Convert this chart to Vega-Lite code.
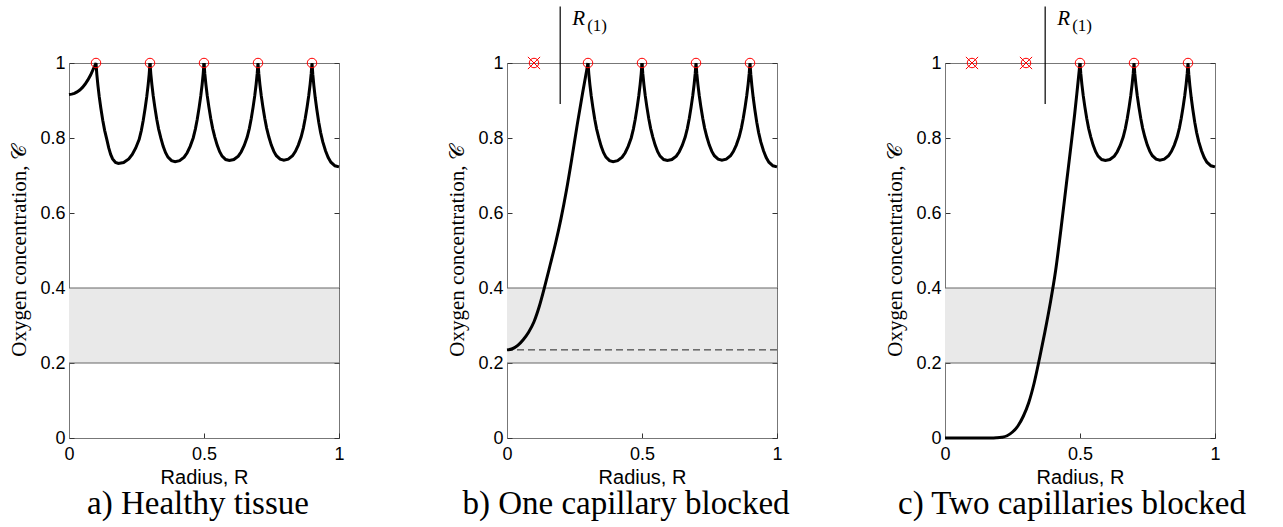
{
  "$schema": "https://vega.github.io/schema/vega-lite/v6.json",
  "autosize": {"type": "pad"},
  "padding": {"left": 8, "top": 5, "right": 5, "bottom": 3},
  "background": "white",
  "config": {
    "view": {"stroke": "#777", "strokeWidth": 1},
    "axis": {"grid": false, "domainColor": "#777", "tickColor": "#333", "tickSize": -5, "labelFont": "Liberation Sans", "labelFontSize": 18, "labelColor": "#000", "titleColor": "#000", "titleFontWeight": "normal"},
    "axisX": {"labelPadding": 12, "titleFont": "Liberation Sans", "titleFontSize": 20, "titlePadding": 4, "labelFlush": false},
    "axisY": {"labelPadding": 9, "titleFont": "Liberation Serif", "titleFontSize": 21, "titlePadding": 10},
    "title": {"font": "Liberation Serif", "fontSize": 33, "fontWeight": "normal", "color": "#000", "orient": "bottom", "offset": 1}
  },
  "datasets": {
    "band": [{"x0": 0, "x1": 1, "lo": 0.2, "hi": 0.4}],
    "levels": [{"C": 0.2}, {"C": 0.4}],
    "dash": [{"C": 0.235}],
    "tail2": [
      {"R":0.3,"C":1},{"R":0.303,"C":0.9711},{"R":0.307,"C":0.9421},{"R":0.312,"C":0.9119},{"R":0.318,"C":0.8817},{"R":0.325,"C":0.8501},{"R":0.332,"C":0.8238},{"R":0.34,"C":0.8001},{"R":0.3488,"C":0.7778},{"R":0.3577,"C":0.7607},{"R":0.3665,"C":0.7488},{"R":0.3797,"C":0.7396},{"R":0.393,"C":0.737},
      {"R":0.4097,"C":0.7396},{"R":0.4265,"C":0.7488},{"R":0.4377,"C":0.7607},{"R":0.4488,"C":0.7778},{"R":0.46,"C":0.8001},{"R":0.468,"C":0.8238},{"R":0.475,"C":0.8501},{"R":0.482,"C":0.8817},{"R":0.488,"C":0.9119},{"R":0.493,"C":0.9421},{"R":0.497,"C":0.9711},{"R":0.5,"C":1}
    ],
    "tail3": [
      {"R":0.5,"C":1},{"R":0.503,"C":0.9714},{"R":0.507,"C":0.9428},{"R":0.512,"C":0.9129},{"R":0.518,"C":0.883},{"R":0.525,"C":0.8518},{"R":0.532,"C":0.8258},{"R":0.54,"C":0.8024},{"R":0.549,"C":0.7803},{"R":0.558,"C":0.7634},{"R":0.567,"C":0.7517},{"R":0.5805,"C":0.7426},{"R":0.594,"C":0.74},
      {"R":0.6105,"C":0.7426},{"R":0.627,"C":0.7517},{"R":0.638,"C":0.7634},{"R":0.649,"C":0.7803},{"R":0.66,"C":0.8024},{"R":0.668,"C":0.8258},{"R":0.675,"C":0.8518},{"R":0.682,"C":0.883},{"R":0.688,"C":0.9129},{"R":0.693,"C":0.9428},{"R":0.697,"C":0.9714},
      {"R":0.7,"C":1},{"R":0.703,"C":0.9715},{"R":0.707,"C":0.943},{"R":0.712,"C":0.9132},{"R":0.718,"C":0.8835},{"R":0.725,"C":0.8524},{"R":0.732,"C":0.8265},{"R":0.74,"C":0.8032},{"R":0.7493,"C":0.7811},{"R":0.7587,"C":0.7643},{"R":0.768,"C":0.7527},{"R":0.782,"C":0.7436},{"R":0.796,"C":0.741},
      {"R":0.812,"C":0.7436},{"R":0.828,"C":0.7527},{"R":0.8387,"C":0.7643},{"R":0.8493,"C":0.7811},{"R":0.86,"C":0.8032},{"R":0.868,"C":0.8265},{"R":0.875,"C":0.8524},{"R":0.882,"C":0.8835},{"R":0.888,"C":0.9132},{"R":0.893,"C":0.943},{"R":0.897,"C":0.9715},
      {"R":0.9,"C":1},{"R":0.903,"C":0.9695},{"R":0.907,"C":0.9391},{"R":0.912,"C":0.9072},{"R":0.918,"C":0.8754},{"R":0.925,"C":0.8421},{"R":0.932,"C":0.8144},{"R":0.94,"C":0.7895},{"R":0.95,"C":0.766},{"R":0.96,"C":0.7479},{"R":0.97,"C":0.7355},{"R":0.985,"C":0.7258},{"R":1,"C":0.723}
    ],
    "headA": [
      {"R":0,"C":0.916},{"R":0.01,"C":0.917},{"R":0.02,"C":0.919},{"R":0.03,"C":0.923},{"R":0.04,"C":0.928},{"R":0.05,"C":0.935},{"R":0.06,"C":0.944},{"R":0.07,"C":0.955},{"R":0.08,"C":0.968},{"R":0.09,"C":0.984},{"R":0.095,"C":0.992},
      {"R":0.1,"C":1},{"R":0.103,"C":0.9705},{"R":0.107,"C":0.941},{"R":0.112,"C":0.9102},{"R":0.118,"C":0.8794},{"R":0.125,"C":0.8472},{"R":0.132,"C":0.8204},{"R":0.14,"C":0.7963},{"R":0.1472,"C":0.7735},{"R":0.1543,"C":0.7561},{"R":0.1615,"C":0.7441},{"R":0.1723,"C":0.7347},{"R":0.183,"C":0.732},
      {"R":0.2023,"C":0.7347},{"R":0.2215,"C":0.7441},{"R":0.2343,"C":0.7561},{"R":0.2472,"C":0.7735},{"R":0.26,"C":0.7963},{"R":0.268,"C":0.8204},{"R":0.275,"C":0.8472},{"R":0.282,"C":0.8794},{"R":0.288,"C":0.9102},{"R":0.293,"C":0.941},{"R":0.297,"C":0.9705},{"R":0.3,"C":1}
    ],
    "headB": [
      {"R":0,"C":0.235},{"R":0.02,"C":0.238},{"R":0.04,"C":0.247},{"R":0.06,"C":0.262},{"R":0.08,"C":0.282},{"R":0.1,"C":0.31},{"R":0.12,"C":0.352},{"R":0.14,"C":0.405},{"R":0.16,"C":0.462},{"R":0.18,"C":0.52},{"R":0.2,"C":0.585},{"R":0.22,"C":0.66},{"R":0.24,"C":0.745},{"R":0.26,"C":0.835},{"R":0.28,"C":0.92},{"R":0.29,"C":0.96},{"R":0.3,"C":1}
    ],
    "headC": [
      {"R":0,"C":0},{"R":0.1,"C":0},{"R":0.17,"C":0},{"R":0.19,"C":0.0005},{"R":0.21,"C":0.002},{"R":0.23,"C":0.006},{"R":0.25,"C":0.016},{"R":0.27,"C":0.032},{"R":0.29,"C":0.058},{"R":0.31,"C":0.094},{"R":0.33,"C":0.146},{"R":0.35,"C":0.212},{"R":0.37,"C":0.283},{"R":0.39,"C":0.36},{"R":0.41,"C":0.448},{"R":0.43,"C":0.56},{"R":0.45,"C":0.68},{"R":0.47,"C":0.8},{"R":0.48,"C":0.862},{"R":0.49,"C":0.93},{"R":0.5,"C":1}
    ],
    "capA": [{"R":0.1,"C":1,"blocked":false},{"R":0.3,"C":1,"blocked":false},{"R":0.5,"C":1,"blocked":false},{"R":0.7,"C":1,"blocked":false},{"R":0.9,"C":1,"blocked":false}],
    "capB": [{"R":0.1,"C":1,"blocked":true},{"R":0.3,"C":1,"blocked":false},{"R":0.5,"C":1,"blocked":false},{"R":0.7,"C":1,"blocked":false},{"R":0.9,"C":1,"blocked":false}],
    "capC": [{"R":0.1,"C":1,"blocked":true},{"R":0.3,"C":1,"blocked":true},{"R":0.5,"C":1,"blocked":false},{"R":0.7,"C":1,"blocked":false},{"R":0.9,"C":1,"blocked":false}],
    "r1B": [{"R":0.197,"lo":0.891,"hi":1.151,"ty":1.118}],
    "r1C": [{"R":0.371,"lo":0.891,"hi":1.151,"ty":1.118}]
  },
  "spacing": 168,
  "bounds": "flush",
  "hconcat": [
    {
      "width": 270, "height": 375,
      "title": {"text": "a) Healthy tissue", "dx": -6},
      "resolve": {"axis": {"y": "independent"}},
      "layer": [
        {"data": {"name": "band"}, "mark": {"type": "rect", "color": "#e9e9e9"},
         "encoding": {"x": {"field": "x0", "type": "quantitative", "scale": {"domain": [0, 1], "nice": false}}, "x2": {"field": "x1"},
                      "y": {"field": "lo", "type": "quantitative", "scale": {"domain": [0, 1], "nice": false}, "axis": null}, "y2": {"field": "hi"}}},
        {"data": {"name": "levels"}, "mark": {"type": "rule", "color": "#666", "strokeWidth": 1},
         "encoding": {"y": {"field": "C", "type": "quantitative", "scale": {"domain": [0, 1], "nice": false}, "axis": {"orient": "right", "labels": false, "title": null, "domain": false, "values": [0, 0.2, 0.4, 0.6, 0.8, 1]}}}},
        {"data": {"name": "headA"}, "mark": {"type": "line", "color": "#000", "strokeWidth": 3},
         "encoding": {"x": {"field": "R", "type": "quantitative", "scale": {"domain": [0, 1], "nice": false}, "axis": {"title": "Radius, R", "values": [0, 0.5, 1], "format": "~g"}},
                      "y": {"field": "C", "type": "quantitative", "scale": {"domain": [0, 1], "nice": false}, "axis": {"title": "Oxygen concentration, 𝒞", "values": [0, 0.2, 0.4, 0.6, 0.8, 1], "format": "~g"}}}},
        {"data": {"name": "tail2"}, "mark": {"type": "line", "color": "#000", "strokeWidth": 3},
         "encoding": {"x": {"field": "R", "type": "quantitative"}, "y": {"field": "C", "type": "quantitative", "scale": {"domain": [0, 1], "nice": false}, "axis": null}}},
        {"data": {"name": "tail3"}, "mark": {"type": "line", "color": "#000", "strokeWidth": 3},
         "encoding": {"x": {"field": "R", "type": "quantitative"}, "y": {"field": "C", "type": "quantitative", "scale": {"domain": [0, 1], "nice": false}, "axis": null}}},
        {"data": {"name": "capA"}, "mark": {"type": "point", "shape": "circle", "size": 90, "filled": false, "color": "#ff0000", "strokeWidth": 1, "opacity": 1},
         "encoding": {"x": {"field": "R", "type": "quantitative"}, "y": {"field": "C", "type": "quantitative", "scale": {"domain": [0, 1], "nice": false}, "axis": null}}}
      ]
    },
    {
      "width": 270, "height": 375,
      "title": {"text": "b) One capillary blocked", "dx": -16},
      "resolve": {"axis": {"y": "independent"}},
      "layer": [
        {"data": {"name": "band"}, "mark": {"type": "rect", "color": "#e9e9e9"},
         "encoding": {"x": {"field": "x0", "type": "quantitative", "scale": {"domain": [0, 1], "nice": false}}, "x2": {"field": "x1"},
                      "y": {"field": "lo", "type": "quantitative", "scale": {"domain": [0, 1], "nice": false}, "axis": null}, "y2": {"field": "hi"}}},
        {"data": {"name": "levels"}, "mark": {"type": "rule", "color": "#666", "strokeWidth": 1},
         "encoding": {"y": {"field": "C", "type": "quantitative", "scale": {"domain": [0, 1], "nice": false}, "axis": {"orient": "right", "labels": false, "title": null, "domain": false, "values": [0, 0.2, 0.4, 0.6, 0.8, 1]}}}},
        {"data": {"name": "dash"}, "mark": {"type": "rule", "color": "#222", "strokeWidth": 1, "strokeDash": [7, 4]},
         "encoding": {"y": {"field": "C", "type": "quantitative", "scale": {"domain": [0, 1], "nice": false}, "axis": null}}},
        {"data": {"name": "headB"}, "mark": {"type": "line", "color": "#000", "strokeWidth": 3, "interpolate": "monotone"},
         "encoding": {"x": {"field": "R", "type": "quantitative", "scale": {"domain": [0, 1], "nice": false}, "axis": {"title": "Radius, R", "values": [0, 0.5, 1], "format": "~g"}},
                      "y": {"field": "C", "type": "quantitative", "scale": {"domain": [0, 1], "nice": false}, "axis": {"title": "Oxygen concentration, 𝒞", "values": [0, 0.2, 0.4, 0.6, 0.8, 1], "format": "~g"}}}},
        {"data": {"name": "tail2"}, "mark": {"type": "line", "color": "#000", "strokeWidth": 3},
         "encoding": {"x": {"field": "R", "type": "quantitative"}, "y": {"field": "C", "type": "quantitative", "scale": {"domain": [0, 1], "nice": false}, "axis": null}}},
        {"data": {"name": "tail3"}, "mark": {"type": "line", "color": "#000", "strokeWidth": 3},
         "encoding": {"x": {"field": "R", "type": "quantitative"}, "y": {"field": "C", "type": "quantitative", "scale": {"domain": [0, 1], "nice": false}, "axis": null}}},
        {"data": {"name": "r1B"}, "mark": {"type": "rule", "color": "#000", "strokeWidth": 1.2},
         "encoding": {"x": {"field": "R", "type": "quantitative"}, "y": {"field": "lo", "type": "quantitative", "scale": {"domain": [0, 1], "nice": false}, "axis": null}, "y2": {"field": "hi"}}},
        {"data": {"name": "r1B"}, "mark": {"type": "text", "text": "R", "font": "Liberation Serif", "fontStyle": "italic", "fontSize": 21, "align": "left", "baseline": "middle", "dx": 12, "color": "#000"},
         "encoding": {"x": {"field": "R", "type": "quantitative"}, "y": {"field": "ty", "type": "quantitative", "scale": {"domain": [0, 1], "nice": false}, "axis": null}}},
        {"data": {"name": "r1B"}, "mark": {"type": "text", "text": "(1)", "font": "Liberation Serif", "fontSize": 17, "align": "left", "baseline": "middle", "dx": 27, "dy": 7, "color": "#000"},
         "encoding": {"x": {"field": "R", "type": "quantitative"}, "y": {"field": "ty", "type": "quantitative", "scale": {"domain": [0, 1], "nice": false}, "axis": null}}},
        {"data": {"name": "capB"}, "mark": {"type": "point", "shape": "circle", "size": 90, "filled": false, "color": "#ff0000", "strokeWidth": 1, "opacity": 1},
         "encoding": {"x": {"field": "R", "type": "quantitative"}, "y": {"field": "C", "type": "quantitative", "scale": {"domain": [0, 1], "nice": false}, "axis": null}}},
        {"data": {"name": "capB"}, "transform": [{"filter": "datum.blocked"}], "mark": {"type": "point", "shape": "M-1,-1L1,1M-1,1L1,-1", "size": 150, "filled": false, "color": "#ff0000", "strokeWidth": 1, "opacity": 1},
         "encoding": {"x": {"field": "R", "type": "quantitative"}, "y": {"field": "C", "type": "quantitative", "scale": {"domain": [0, 1], "nice": false}, "axis": null}}}
      ]
    },
    {
      "width": 270, "height": 375,
      "title": {"text": "c) Two capillaries blocked", "dx": -8},
      "resolve": {"axis": {"y": "independent"}},
      "layer": [
        {"data": {"name": "band"}, "mark": {"type": "rect", "color": "#e9e9e9"},
         "encoding": {"x": {"field": "x0", "type": "quantitative", "scale": {"domain": [0, 1], "nice": false}}, "x2": {"field": "x1"},
                      "y": {"field": "lo", "type": "quantitative", "scale": {"domain": [0, 1], "nice": false}, "axis": null}, "y2": {"field": "hi"}}},
        {"data": {"name": "levels"}, "mark": {"type": "rule", "color": "#666", "strokeWidth": 1},
         "encoding": {"y": {"field": "C", "type": "quantitative", "scale": {"domain": [0, 1], "nice": false}, "axis": {"orient": "right", "labels": false, "title": null, "domain": false, "values": [0, 0.2, 0.4, 0.6, 0.8, 1]}}}},
        {"data": {"name": "headC"}, "mark": {"type": "line", "color": "#000", "strokeWidth": 3, "interpolate": "monotone"},
         "encoding": {"x": {"field": "R", "type": "quantitative", "scale": {"domain": [0, 1], "nice": false}, "axis": {"title": "Radius, R", "values": [0, 0.5, 1], "format": "~g"}},
                      "y": {"field": "C", "type": "quantitative", "scale": {"domain": [0, 1], "nice": false}, "axis": {"title": "Oxygen concentration, 𝒞", "values": [0, 0.2, 0.4, 0.6, 0.8, 1], "format": "~g"}}}},
        {"data": {"name": "tail3"}, "mark": {"type": "line", "color": "#000", "strokeWidth": 3},
         "encoding": {"x": {"field": "R", "type": "quantitative"}, "y": {"field": "C", "type": "quantitative", "scale": {"domain": [0, 1], "nice": false}, "axis": null}}},
        {"data": {"name": "r1C"}, "mark": {"type": "rule", "color": "#000", "strokeWidth": 1.2},
         "encoding": {"x": {"field": "R", "type": "quantitative"}, "y": {"field": "lo", "type": "quantitative", "scale": {"domain": [0, 1], "nice": false}, "axis": null}, "y2": {"field": "hi"}}},
        {"data": {"name": "r1C"}, "mark": {"type": "text", "text": "R", "font": "Liberation Serif", "fontStyle": "italic", "fontSize": 21, "align": "left", "baseline": "middle", "dx": 12, "color": "#000"},
         "encoding": {"x": {"field": "R", "type": "quantitative"}, "y": {"field": "ty", "type": "quantitative", "scale": {"domain": [0, 1], "nice": false}, "axis": null}}},
        {"data": {"name": "r1C"}, "mark": {"type": "text", "text": "(1)", "font": "Liberation Serif", "fontSize": 17, "align": "left", "baseline": "middle", "dx": 27, "dy": 7, "color": "#000"},
         "encoding": {"x": {"field": "R", "type": "quantitative"}, "y": {"field": "ty", "type": "quantitative", "scale": {"domain": [0, 1], "nice": false}, "axis": null}}},
        {"data": {"name": "capC"}, "mark": {"type": "point", "shape": "circle", "size": 90, "filled": false, "color": "#ff0000", "strokeWidth": 1, "opacity": 1},
         "encoding": {"x": {"field": "R", "type": "quantitative"}, "y": {"field": "C", "type": "quantitative", "scale": {"domain": [0, 1], "nice": false}, "axis": null}}},
        {"data": {"name": "capC"}, "transform": [{"filter": "datum.blocked"}], "mark": {"type": "point", "shape": "M-1,-1L1,1M-1,1L1,-1", "size": 150, "filled": false, "color": "#ff0000", "strokeWidth": 1, "opacity": 1},
         "encoding": {"x": {"field": "R", "type": "quantitative"}, "y": {"field": "C", "type": "quantitative", "scale": {"domain": [0, 1], "nice": false}, "axis": null}}}
      ]
    }
  ]
}
